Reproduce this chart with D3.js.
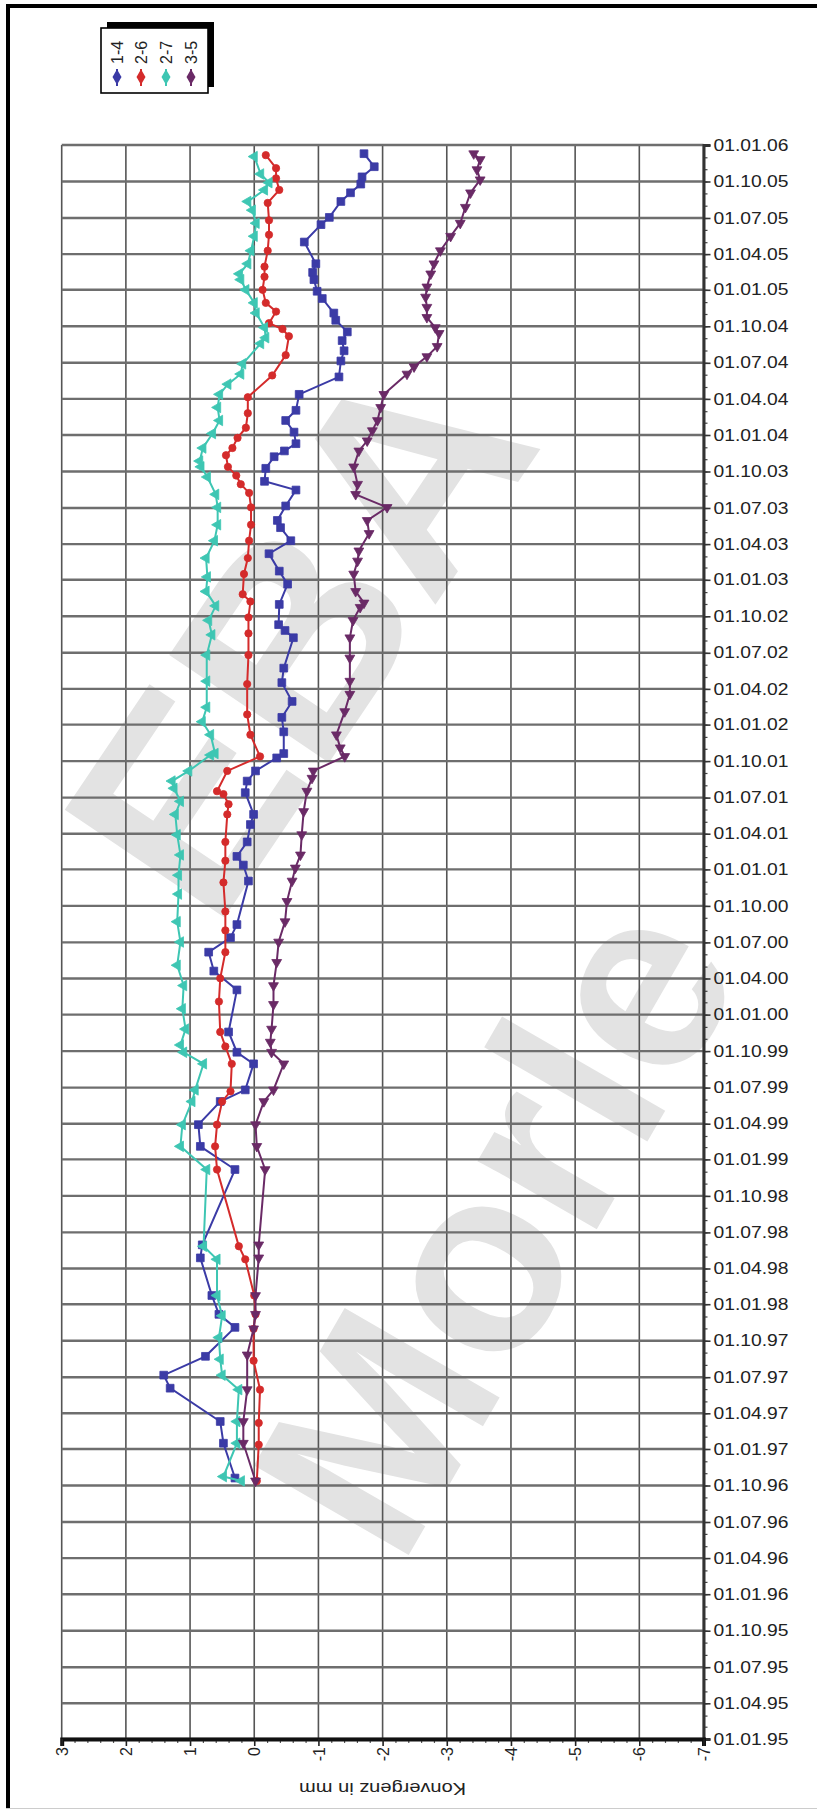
<!DOCTYPE html>
<html><head><meta charset="utf-8">
<script src="https://cdn.jsdelivr.net/npm/d3@7"></script>
<style>html,body{margin:0;padding:0;background:#fff}svg{display:block}text{font-family:"Liberation Sans",Arial,sans-serif}</style>
</head><body>
<script>
// ---- data (time in decimal years, convergence in mm) ----
const seriesNames = ["1-4", "2-6", "2-7", "3-5"];
const seriesColors = ["#3b3ba6", "#d42b2b", "#3ec6b3", "#6a2a66"];
const xTickValues = [3, 2, 1, 0, -1, -2, -3, -4, -5, -6, -7];

const t14 = [1996.80,1997.04,1997.19,1997.42,1997.51,1997.64,1997.84,1997.93,1998.06,1998.32,1998.41,1998.93,1999.09,1999.24,1999.40,1999.48,1999.66,1999.74,1999.88,2000.17,2000.30,2000.43,2000.53,2000.62,2000.92,2001.03,2001.09,2001.19,2001.31,2001.38,2001.53,2001.61,2001.68,2001.77,2001.80,2001.95,2002.05,2002.16,2002.29,2002.39,2002.60,2002.65,2002.69,2002.83,2002.97,2003.06,2003.18,2003.27,2003.36,2003.41,2003.51,2003.62,2003.68,2003.77,2003.85,2003.89,2003.94,2004.02,2004.10,2004.17,2004.28,2004.40,2004.51,2004.58,2004.65,2004.71,2004.79,2004.84,2004.94,2004.99,2005.07,2005.12,2005.18,2005.33,2005.45,2005.50,2005.61,2005.67,2005.73,2005.78,2005.85,2005.94];
const v14 = [0.30,0.48,0.53,1.31,1.41,0.76,0.30,0.55,0.66,0.84,0.81,0.30,0.84,0.87,0.53,0.14,0.01,0.27,0.40,0.27,0.63,0.71,0.37,0.27,0.09,0.17,0.27,0.11,0.06,0.01,0.14,0.11,-0.02,-0.35,-0.46,-0.46,-0.43,-0.59,-0.43,-0.46,-0.61,-0.48,-0.38,-0.39,-0.52,-0.39,-0.23,-0.57,-0.41,-0.36,-0.49,-0.65,-0.16,-0.18,-0.31,-0.47,-0.65,-0.62,-0.49,-0.65,-0.70,-1.32,-1.35,-1.40,-1.37,-1.45,-1.27,-1.24,-1.06,-0.98,-0.93,-0.91,-0.96,-0.78,-1.04,-1.17,-1.35,-1.50,-1.66,-1.68,-1.87,-1.71];

const t26 = [1996.78,1997.03,1997.18,1997.41,1997.61,1997.83,1997.93,1998.06,1998.31,1998.40,1998.93,1999.09,1999.24,1999.40,1999.47,1999.66,1999.78,1999.88,2000.09,2000.25,2000.43,2000.58,2000.71,2000.91,2001.06,2001.19,2001.38,2001.45,2001.52,2001.54,2001.68,2001.78,2001.93,2002.07,2002.28,2002.48,2002.63,2002.74,2002.85,2002.90,2003.04,2003.15,2003.27,2003.38,2003.50,2003.60,2003.66,2003.72,2003.78,2003.86,2003.91,2003.98,2004.05,2004.15,2004.26,2004.41,2004.55,2004.68,2004.73,2004.77,2004.85,2004.91,2005.00,2005.09,2005.16,2005.27,2005.38,2005.48,2005.60,2005.69,2005.77,2005.84,2005.93];
const v26 = [-0.04,-0.07,-0.07,-0.09,0.01,0.01,-0.02,0.00,0.14,0.24,0.58,0.61,0.58,0.50,0.37,0.35,0.45,0.53,0.55,0.53,0.45,0.45,0.45,0.48,0.45,0.45,0.42,0.40,0.48,0.58,0.42,-0.09,0.06,0.11,0.11,0.09,0.09,0.09,0.06,0.18,0.16,0.10,0.08,0.05,0.05,0.08,0.21,0.28,0.41,0.44,0.34,0.26,0.13,0.10,0.10,-0.28,-0.49,-0.54,-0.44,-0.23,-0.34,-0.18,-0.13,-0.16,-0.16,-0.21,-0.23,-0.23,-0.21,-0.39,-0.34,-0.34,-0.18];

const t27 = [1996.78,1996.81,1997.04,1997.19,1997.41,1997.51,1997.62,1997.77,1997.92,1998.06,1998.31,1998.40,1998.93,1999.09,1999.24,1999.40,1999.48,1999.66,1999.74,1999.79,1999.90,2000.04,2000.20,2000.34,2000.50,2000.64,2000.83,2000.96,2001.10,2001.24,2001.38,2001.47,2001.56,2001.61,2001.68,2001.79,2001.80,2001.93,2002.02,2002.12,2002.30,2002.48,2002.62,2002.72,2002.82,2002.92,2003.02,2003.15,2003.27,2003.38,2003.50,2003.59,2003.71,2003.78,2003.82,2003.91,2004.01,2004.10,2004.19,2004.28,2004.35,2004.42,2004.49,2004.63,2004.67,2004.74,2004.84,2004.91,2005.00,2005.07,2005.11,2005.18,2005.27,2005.37,2005.46,2005.55,2005.61,2005.69,2005.74,2005.80,2005.92];
const v27 = [0.20,0.48,0.27,0.27,0.24,0.50,0.53,0.55,0.50,0.58,0.58,0.79,0.74,1.15,1.12,0.97,0.92,0.79,1.10,1.15,1.07,1.12,1.10,1.20,1.15,1.20,1.18,1.18,1.15,1.20,1.23,1.15,1.25,1.28,1.02,0.68,0.61,0.68,0.81,0.74,0.74,0.74,0.66,0.71,0.60,0.75,0.73,0.75,0.62,0.57,0.57,0.60,0.73,0.83,0.85,0.80,0.65,0.54,0.57,0.54,0.41,0.21,0.18,-0.10,-0.18,-0.16,-0.03,0.00,0.13,0.21,0.23,0.10,0.05,0.00,-0.03,0.03,0.10,-0.16,-0.23,-0.10,0.00];

const t35 = [1996.78,1997.04,1997.19,1997.41,1997.65,1997.83,1997.93,1998.06,1998.32,1998.41,1998.93,1999.09,1999.24,1999.40,1999.48,1999.66,1999.74,1999.81,1999.90,2000.07,2000.20,2000.36,2000.50,2000.64,2000.78,2000.92,2001.01,2001.10,2001.24,2001.40,2001.54,2001.63,2001.68,2001.78,2001.84,2001.93,2002.09,2002.21,2002.30,2002.46,2002.60,2002.72,2002.81,2002.84,2002.92,2003.04,2003.13,2003.20,2003.32,2003.41,2003.50,2003.59,2003.66,2003.78,2003.89,2003.96,2004.03,2004.10,2004.19,2004.28,2004.42,2004.47,2004.54,2004.61,2004.70,2004.74,2004.81,2004.88,2004.95,2005.02,2005.11,2005.18,2005.27,2005.37,2005.46,2005.57,2005.67,2005.76,2005.83,2005.90,2005.94];
const v35 = [-0.02,0.17,0.17,0.11,0.11,0.01,-0.02,-0.02,-0.07,-0.07,-0.17,-0.04,-0.02,-0.15,-0.30,-0.46,-0.27,-0.25,-0.27,-0.30,-0.30,-0.35,-0.38,-0.48,-0.51,-0.59,-0.64,-0.72,-0.74,-0.77,-0.82,-0.90,-0.92,-1.41,-1.34,-1.28,-1.41,-1.49,-1.49,-1.49,-1.49,-1.54,-1.65,-1.71,-1.58,-1.55,-1.61,-1.63,-1.79,-1.76,-2.07,-1.58,-1.61,-1.55,-1.63,-1.76,-1.84,-1.92,-1.97,-2.02,-2.38,-2.49,-2.69,-2.85,-2.88,-2.82,-2.69,-2.69,-2.67,-2.69,-2.75,-2.80,-2.90,-3.06,-3.21,-3.29,-3.37,-3.52,-3.47,-3.52,-3.42];

const seriesTimes = [t14, t26, t27, t35];
const seriesValues = [v14, v26, v27, v35];

// ---- helpers ----
function dec2date(t){
  const yr = Math.floor(t);
  const a = Date.UTC(yr,0,1), b = Date.UTC(yr+1,0,1);
  return new Date(a + (t-yr)*(b-a));
}

const W = 817, H = 1811;
const svg = d3.select("body").append("svg").attr("width", W).attr("height", H);
svg.append("rect").attr("width", W).attr("height", H).attr("fill", "#fff");

const x = d3.scaleLinear().domain([3, -7]).range([61.7, 703.5]);
const y = d3.scaleUtc().domain([new Date(Date.UTC(1995,0,1)), new Date(Date.UTC(2006,0,1))]).range([1739, 145]);

// ---- watermark ----
const wm = svg.append("g").attr("fill", "#e3e3e3").attr("font-weight", "bold")
  .style("font-family", "'Liberation Sans',Arial,sans-serif");
wm.append("text").attr("transform", "translate(214,933) rotate(-56)").attr("font-size", 280).text("EBA");
wm.append("text").attr("transform", "translate(400,1570) rotate(-60)").attr("font-size", 260).text("Morle");

// ---- grid ----
const quarters = d3.utcMonth.every(3).range(y.domain()[0], new Date(Date.UTC(2006,0,2)));
const months = d3.utcMonth.range(y.domain()[0], new Date(Date.UTC(2006,0,2)));
const grid = svg.append("g");
grid.selectAll("line.v").data(xTickValues).join("line")
  .attr("x1", d => x(d)).attr("x2", d => x(d)).attr("y1", y.range()[1]).attr("y2", y.range()[0])
  .attr("stroke", "#555").attr("stroke-width", 1.6);
grid.selectAll("line.h").data(quarters).join("line")
  .attr("x1", x.range()[0]).attr("x2", x.range()[1]).attr("y1", d => y(d)).attr("y2", d => y(d))
  .attr("stroke", "#6e6e6e").attr("stroke-width", 2.4);

// ---- right (time) axis ----
const fmt = d3.utcFormat("%d.%m.%y");
const ra = svg.append("g").attr("transform", `translate(${x.range()[1]},0)`);
ra.call(d3.axisRight(y).tickValues(months).tickSize(4).tickFormat(""));
ra.call(g => g.selectAll(".tick line").attr("stroke", "#444").attr("stroke-width", 1.2));
ra.select(".domain").remove();
const raMaj = svg.append("g").attr("transform", `translate(${x.range()[1]},0)`)
  .call(d3.axisRight(y).tickValues(quarters).tickSize(7).tickPadding(3).tickFormat(fmt));
raMaj.selectAll(".tick line").attr("stroke", "#333").attr("stroke-width", 1.6);
raMaj.selectAll(".tick text").attr("font-size", 16).attr("fill", "#222")
  .attr("textLength", 75).attr("lengthAdjust", "spacingAndGlyphs")
  .style("font-family", "'Liberation Sans',Arial,sans-serif");
raMaj.select(".domain").attr("stroke", "#333").attr("stroke-width", 3);

// ---- bottom (value) axis ----
const minorX = d3.range(-7, 3.0001, 0.2).filter(v => Math.abs(v - Math.round(v)) > 1e-6);
const ba = svg.append("g").attr("transform", `translate(0,${y.range()[0]})`);
ba.call(d3.axisBottom(x).tickValues(minorX).tickSize(4).tickFormat(""));
ba.selectAll(".tick line").attr("stroke", "#555").attr("stroke-width", 1.2);
ba.select(".domain").remove();
const baMaj = svg.append("g").attr("transform", `translate(0,${y.range()[0]})`)
  .call(d3.axisBottom(x).tickValues(xTickValues).tickSize(7).tickFormat(d => d));
baMaj.select(".domain").attr("stroke", "#111").attr("stroke-width", 4);
baMaj.selectAll(".tick line").attr("stroke", "#222").attr("stroke-width", 1.6);
baMaj.selectAll(".tick text")
  .attr("transform", "translate(0,8) rotate(-90)")
  .attr("x", 0).attr("y", 0).attr("dy", "0.35em")
  .attr("text-anchor", "end").attr("font-size", 16).attr("fill", "#222")
  .style("font-family", "'Liberation Sans',Arial,sans-serif");

// axis title (upside down)
svg.append("text").attr("transform", `translate(${(x.range()[0]+x.range()[1])/2},1789) rotate(180)`)
  .attr("text-anchor", "middle").attr("dy", "0.35em").attr("font-size", 16).attr("fill", "#222")
  .attr("textLength", 167).attr("lengthAdjust", "spacingAndGlyphs")
  .text("Konvergenz in mm");

// ---- series ----
const markerSym = [d3.symbolSquare, d3.symbolCircle, d3.symbolTriangle, d3.symbolTriangle];
const markerSize = [60, 42, 48, 42];
const markerRot = [0, 0, -90, 180];
const line = d3.line().x(d => x(d[1])).y(d => y(d[0]));
seriesNames.forEach((name, i) => {
  const pts = seriesTimes[i].map((t, k) => [dec2date(t), seriesValues[i][k]]);
  const g = svg.append("g");
  g.append("path").datum(pts).attr("d", line).attr("fill", "none")
    .attr("stroke", seriesColors[i]).attr("stroke-width", 2);
  g.selectAll("path.m").data(pts).join("path")
    .attr("d", d3.symbol().type(markerSym[i]).size(markerSize[i]))
    .attr("transform", d => `translate(${x(d[1])},${y(d[0])}) rotate(${markerRot[i]})`)
    .attr("fill", seriesColors[i]).attr("stroke", seriesColors[i]).attr("stroke-width", 0.8);
});

// ---- legend ----
const lg = svg.append("g");
lg.append("rect").attr("x", 107).attr("y", 22).attr("width", 107).attr("height", 65).attr("fill", "#000");
lg.append("rect").attr("x", 101).attr("y", 28).attr("width", 107).attr("height", 65)
  .attr("fill", "#fff").attr("stroke", "#000").attr("stroke-width", 1.6);
const lx = [117, 141, 166, 191];
seriesNames.forEach((name, i) => {
  lg.append("line").attr("x1", lx[i]).attr("x2", lx[i]).attr("y1", 69).attr("y2", 86)
    .attr("stroke", seriesColors[i]).attr("stroke-width", 2);
  lg.append("path").attr("d", d3.symbol().type(d3.symbolDiamond).size(70))
    .attr("transform", `translate(${lx[i]},77)`).attr("fill", seriesColors[i]);
  lg.append("text").attr("transform", `translate(${lx[i]},64) rotate(-90)`)
    .attr("dy", "0.35em").attr("font-size", 16).attr("fill", "#222").text(name);
});

// ---- frame ----
svg.append("rect").attr("x", 6).attr("y", 4).attr("width", W - 6).attr("height", 4).attr("fill", "#000");
svg.append("rect").attr("x", 6).attr("y", 4).attr("width", 4).attr("height", H - 6).attr("fill", "#000");
svg.append("line").attr("x1", 6).attr("x2", W).attr("y1", 1808.5).attr("y2", 1808.5).attr("stroke", "#ccc").attr("stroke-width", 1);
</script>
</body></html>
